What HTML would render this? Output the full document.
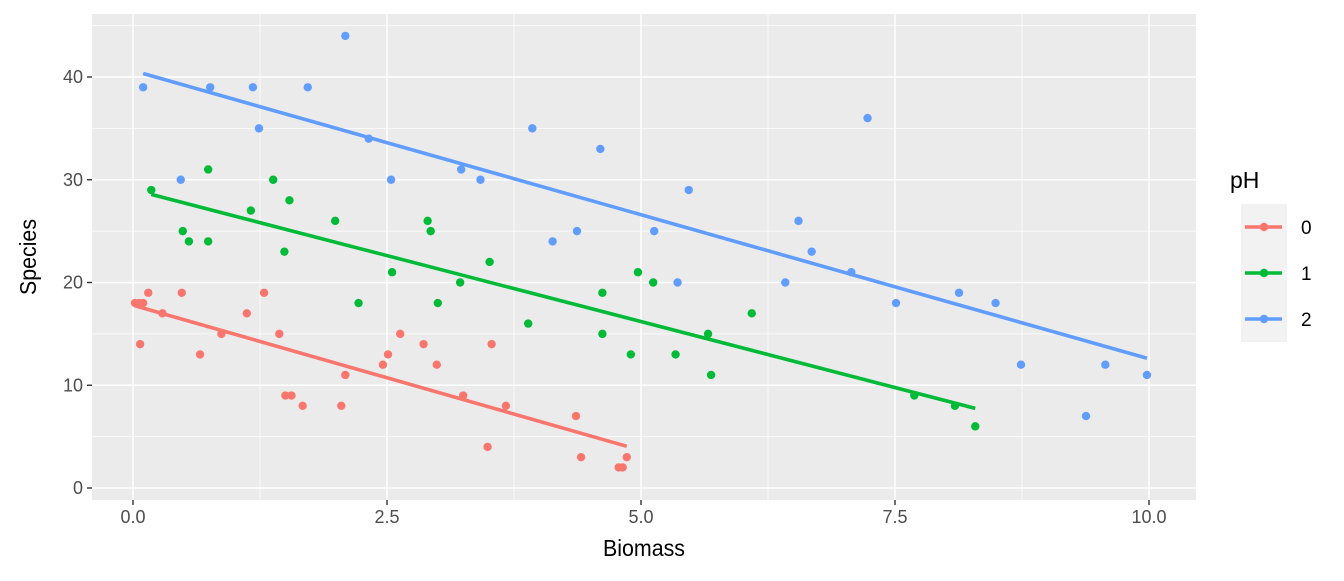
<!DOCTYPE html>
<html><head><meta charset="utf-8"><style>
body{margin:0;background:#fff;}
svg text{font-family:"Liberation Sans",Arial,sans-serif;}
</style></head><body>
<svg id="chart" width="1344" height="576" xmlns="http://www.w3.org/2000/svg"></svg>
<script>
const xTicks=[0,2.5,5,7.5,10];
const xTickLabels=["0.0","2.5","5.0","7.5","10.0"];
const yTicks=[0,10,20,30,40];
const yTickLabels=["0","10","20","30","40"];
const groupNames=["0","1","2"];
const groupColors=["#F8766D","#00BA38","#619CFF"];
const bio0=[0.02,0.06,0.1,0.07,0.15,0.29,0.48,0.66,0.87,1.12,1.29,1.44,1.5,1.56,1.67,2.05,2.09,2.46,2.51,2.63,2.86,2.99,3.25,3.49,3.53,3.67,4.36,4.41,4.78,4.82,4.86];
const sp0=[18,18,18,14,19,17,19,13,15,17,19,15,9,9,8,8,11,12,13,15,14,12,9,4,14,8,7,3,2,2,3];
const bio1=[0.18,0.49,0.55,0.74,0.74,1.16,1.38,1.49,1.54,1.99,2.22,2.55,2.9,2.93,3.0,3.22,3.51,3.89,4.62,4.62,4.9,4.97,5.12,5.34,5.66,5.69,6.09,7.69,8.09,8.29];
const sp1=[29,25,24,31,24,27,30,23,28,26,18,21,26,25,18,20,22,16,19,15,13,21,20,13,15,11,17,9,8,6];
const bio2=[0.1,0.47,0.76,1.18,1.24,1.72,2.09,2.32,2.54,3.23,3.42,3.93,4.13,4.37,4.6,5.13,5.36,5.47,6.42,6.55,6.68,7.07,7.23,7.51,8.13,8.49,8.74,9.38,9.57,9.98];
const sp2=[39,30,39,39,35,39,44,34,30,31,30,35,24,25,33,25,20,29,20,26,23,21,36,18,19,18,12,7,12,11];

const NS="http://www.w3.org/2000/svg";
const svg=document.getElementById('chart');
const PL=92,PR=1196,PT=14,PB=500;
const xs=v=>133+v*101.6;
const ys=v=>488-v*10.275;
function mk(tag,attrs,parent){const e=document.createElementNS(NS,tag);for(const k in attrs)e.setAttribute(k,attrs[k]);(parent||svg).appendChild(e);return e;}

const panel=mk('rect',{x:PL,y:PT,width:PR-PL,height:PB-PT,fill:'#EBEBEB'});


for(let i=0;i<xTicks.length-1;i++){const v=(xTicks[i]+xTicks[i+1])/2;const l=mk('line',{x1:xs(v),x2:xs(v),y1:PT,y2:PB,stroke:'#fff','stroke-width':0.7});}
for(let i=0;i<yTicks.length;i++){const v=yTicks[i]+5;if(ys(v)<PT)continue;const l=mk('line',{x1:PL,x2:PR,y1:ys(v),y2:ys(v),stroke:'#fff','stroke-width':0.7});}
xTicks.forEach((v,i)=>{
 const g=mk('line',{x1:xs(v),x2:xs(v),y1:PT,y2:PB,stroke:'#fff','stroke-width':1.4});
 
 mk('line',{x1:xs(v),x2:xs(v),y1:PB,y2:PB+5,stroke:'#333','stroke-width':1.4});
 const t=mk('text',{x:xs(v),y:523,'text-anchor':'middle','font-size':18,fill:'#4D4D4D'});t.textContent=xTickLabels[i];
 
});
yTicks.forEach((v,i)=>{
 const g=mk('line',{x1:PL,x2:PR,y1:ys(v),y2:ys(v),stroke:'#fff','stroke-width':1.4});
 
 mk('line',{x1:PL-5,x2:PL,y1:ys(v),y2:ys(v),stroke:'#333','stroke-width':1.4});
 const t=mk('text',{x:PL-9,y:ys(v)+6,'text-anchor':'end','font-size':18,fill:'#4D4D4D'});t.textContent=yTickLabels[i];
 
});
const xt=mk('text',{x:644,y:556,'text-anchor':'middle','font-size':23,fill:'#000',textLength:82,lengthAdjust:'spacingAndGlyphs'});xt.textContent='Biomass';

const yt=mk('text',{x:36,y:257,'text-anchor':'middle','font-size':23,fill:'#000',textLength:76,lengthAdjust:'spacingAndGlyphs',transform:'rotate(-90 36 257)'});yt.textContent='Species';


const groups=[[bio0,sp0],[bio1,sp1],[bio2,sp2]];
groups.forEach(([bx,sy],gi)=>{
 const col=groupColors[gi];
 bx.forEach((v,i)=>{const c=mk('circle',{cx:xs(v),cy:ys(sy[i]),r:4.2,fill:col});
  });
 const n=bx.length,mx=bx.reduce((a,b)=>a+b)/n,my=sy.reduce((a,b)=>a+b)/n;
 let sxy=0,sxx=0;bx.forEach((v,i)=>{sxy+=(v-mx)*(sy[i]-my);sxx+=(v-mx)*(v-mx);});
 const b=sxy/sxx,a=my-b*mx,x0=Math.min(...bx),x1=Math.max(...bx);
 const l=mk('line',{x1:xs(x0),y1:ys(a+b*x0),x2:xs(x1),y2:ys(a+b*x1),stroke:col,'stroke-width':3.6});
 
});
const lt=mk('text',{x:1230,y:188,'font-size':23,fill:'#000'});lt.textContent='pH';

const lb=mk('rect',{x:1241,y:204,width:46,height:138,fill:'#F2F2F2'});

groupNames.forEach((g,i)=>{
 const y=227+i*46;
 const gg=mk('g',{});
 mk('line',{x1:1245,x2:1282,y1:y,y2:y,stroke:groupColors[i],'stroke-width':3.6},gg);
 mk('circle',{cx:1264,cy:y,r:4.2,fill:groupColors[i]},gg);
 const t=mk('text',{x:1301,y:y+7,'font-size':19,fill:'#000'},gg);t.textContent=g;
});
</script>
</body></html>
